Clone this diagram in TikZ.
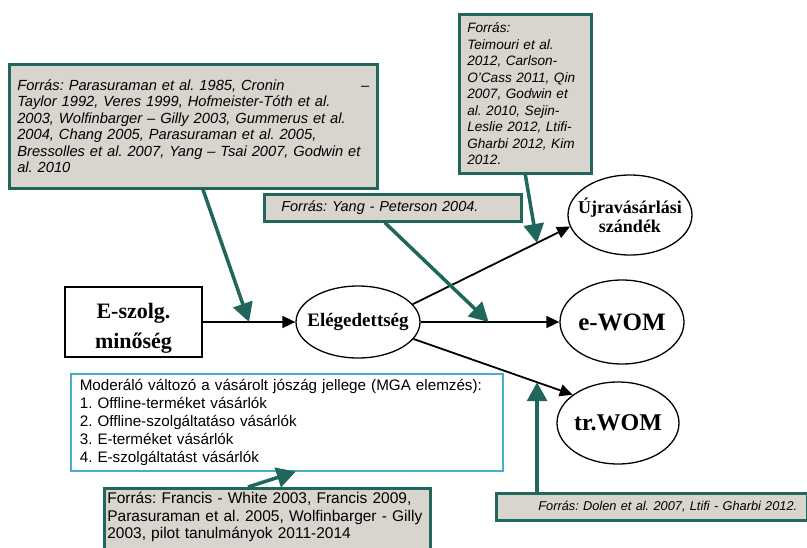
\documentclass[tikz,border=0pt]{standalone}
\usepackage{fontspec}
\setmainfont{Liberation Serif}
\setsansfont{Liberation Sans}
\usetikzlibrary{arrows.meta,positioning,calc}
\usetikzlibrary{shapes}
\definecolor{citeteal}{RGB}{32,102,90}
\definecolor{citegray}{RGB}{216,213,207}
\definecolor{modblue}{RGB}{75,172,198}
\frenchspacing

\begin{document}
\begin{tikzpicture}[x=1pt,y=-1pt,
  source/.style={draw=citeteal, line width=2.6pt, fill=citegray, anchor=north west,
    align=left, font=\sffamily\itshape\fontsize{14.7}{16.5}\selectfont},
  construct/.style={draw, ellipse, line width=1.3pt, align=center,
    inner xsep=-15pt, inner ysep=0pt, font=\bfseries},
  flow/.style={line width=1.8pt, -{Triangle[length=13pt,width=12pt]}},
  cite/.style={draw=citeteal, line width=3.5pt, -{Triangle[length=19pt,width=20pt]}}]
  \useasboundingbox (0,0) rectangle (807,547);

  % constructs
  \node[draw, line width=1.5pt, minimum width=137pt, minimum height=63pt, align=center,
    text height=58pt, font=\bfseries\fontsize{22}{30}\selectfont] (sq) at (133.5,322)
    {E-szolg.\\minőség};
  \node[construct, minimum width=124pt, minimum height=72pt,
    font=\bfseries\fontsize{19}{21}\selectfont] (sat) at (358,322) {Elégedettség};
  \node[construct, minimum width=124pt, minimum height=80pt,
    font=\bfseries\fontsize{18}{19}\selectfont] (rep) at (630,215) {Újravásárlási\\szándék};
  \node[construct, minimum width=124pt, minimum height=84pt,
    font=\bfseries\fontsize{25}{27}\selectfont] (ewom) at (622,322) {e-WOM};
  \node[construct, minimum width=122pt, minimum height=82pt,
    font=\bfseries\fontsize{24}{26}\selectfont] (trwom) at (618,423) {tr.WOM};

  % sources
  \node[source, text width=352pt, inner xsep=8pt, minimum height=124pt] (srcA) at (8,63)
    {Forrás: Parasuraman et al. 1985, Cronin\hfill–\hspace*{6pt}\\
     Taylor 1992, Veres 1999, Hofmeister-Tóth et al.\\
     2003, Wolfinbarger – Gilly 2003, Gummerus et al.\\
     2004, Chang 2005, Parasuraman et al. 2005,\\
     Bressolles et al. 2007, Yang – Tsai 2007, Godwin et\\
     al. 2010};
  \node[source, text width=116pt, inner xsep=8pt, minimum height=159pt,
    font=\sffamily\itshape\fontsize{13.6}{16.5}\selectfont] (srcB) at (458,13)
    {Forrás:\\Teimouri et al.\\2012, Carlson-\\O'Cass 2011, Qin\\2007, Godwin et\\
     al. 2010, Sejin-\\Leslie 2012, Ltifi-\\Gharbi 2012, Kim\\2012.};
  \node[source, text width=223pt, inner xsep=17pt, minimum height=27pt,
    font=\sffamily\itshape\fontsize{14.5}{16}\selectfont] (yang) at (263,193)
    {Forrás: Yang - Peterson 2004.};
  \node[source, text width=291pt, inner xsep=10pt, minimum height=27pt, align=right,
    font=\sffamily\itshape\fontsize{12.8}{15}\selectfont] (dolen) at (495,492)
    {Forrás: Dolen et al. 2007, Ltifi - Gharbi 2012.};
  \node[draw=modblue, line width=1.6pt, anchor=north west, align=left, text width=414pt,
    inner xsep=9pt, minimum height=97pt, font=\sffamily\fontsize{15.2}{18}\selectfont]
    (mod) at (70,373)
    {\mbox{Moderáló változó a vásárolt jószág jellege (MGA elemzés):}\\
     1. Offline-terméket vásárlók\\
     2. Offline-szolgáltatáso vásárlók\\
     3. E-terméket vásárlók\\
     4. E-szolgáltatást vásárlók};
  \node[source, text width=320pt, inner xsep=3pt, inner ysep=4pt, text depth=60pt,
    font=\sffamily\fontsize{15.5}{17.5}\selectfont] (francis) at (103,487)
    {Forrás: Francis - White 2003, Francis 2009,\\
     Parasuraman et al. 2005, Wolfinbarger - Gilly\\
     2003, pilot tanulmányok 2011-2014};

  % paths
  \draw[flow] (sq.east) -- coordinate[pos=0.5] (m1) (sat.west);
  \draw[flow] (sat.18) -- coordinate[pos=0.79] (m2) (rep.191);
  \draw[flow] (sat.east) -- coordinate[pos=0.49] (m3) (ewom.west);
  \draw[flow] (sat.-17) -- coordinate[pos=0.776] (m4) (trwom.148);

  % sources pointing at paths
  \draw[cite] ([xshift=195pt]srcA.south west) -- (m1);
  \draw[cite] (srcB.south) -- (m2);
  \draw[cite] ([xshift=-8pt]yang.south) -- (m3);
  \draw[cite] (m4 |- dolen.north) -- (m4);
  \draw[cite] ([xshift=145pt]francis.north west) -- ([xshift=9pt]mod.south);
\end{tikzpicture}
\end{document}
